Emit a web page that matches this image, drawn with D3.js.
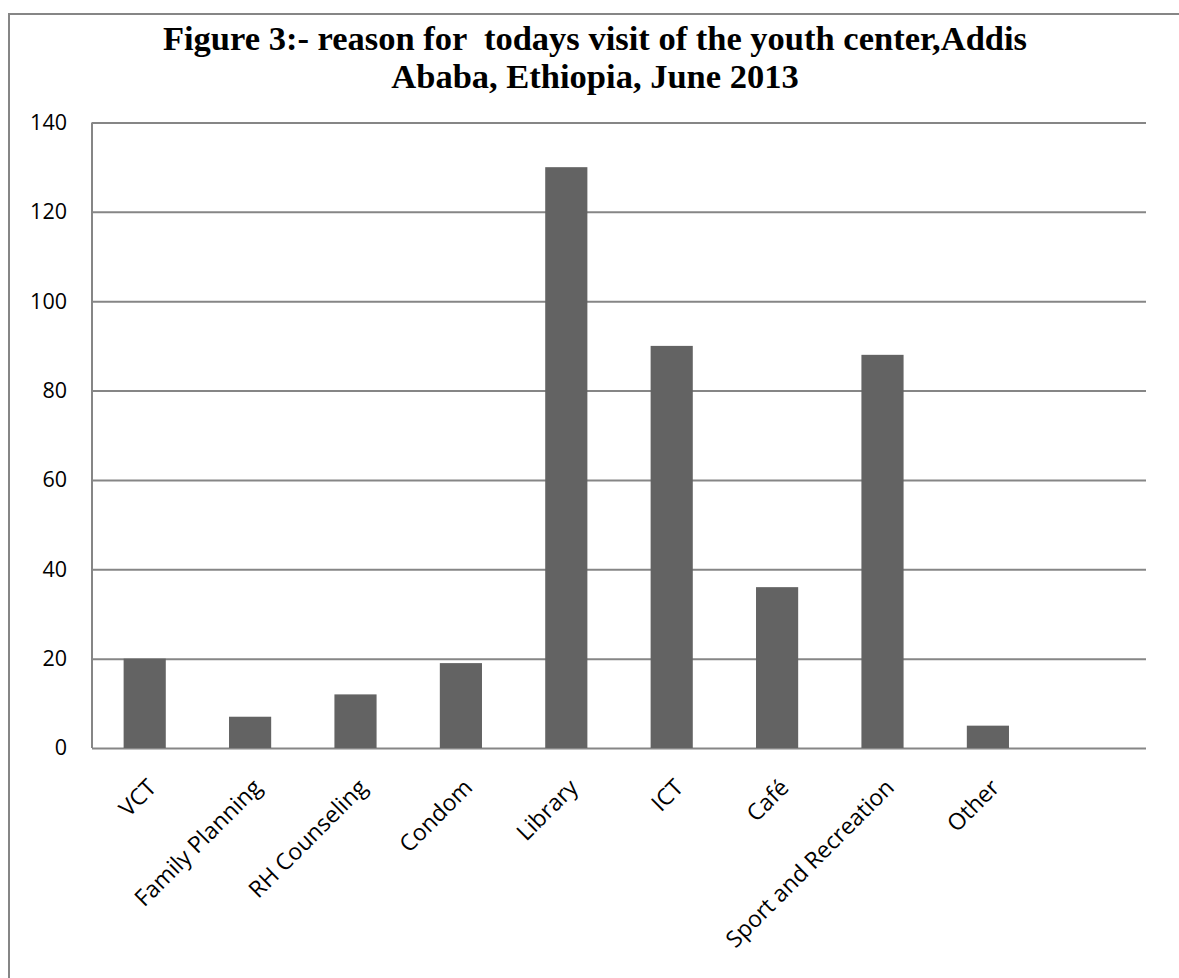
<!DOCTYPE html>
<html>
<head>
<meta charset="utf-8">
<script src="https://cdn.jsdelivr.net/npm/d3@7"></script>
<style>
body { margin: 0; background: #fff; }
.tick text, .xlab { font-family: "Open Sans", "Noto Sans", sans-serif; fill: #000; }
</style>
</head>
<body>
<div class="mainviz"></div>
<script>
var categories = ["VCT", "Family Planning", "RH Counseling", "Condom", "Library", "ICT", "Café", "Sport and Recreation", "Other", ""];
var visits = [20, 7, 12, 19, 130, 90, 36, 88, 5, null];
var yTicks = [0, 20, 40, 60, 80, 100, 120, 140];
var titleLines = ["Figure 3:- reason for  todays visit of the youth center,Addis", "Ababa, Ethiopia, June 2013"];

var W = 1179, H = 978;
var margin = { top: 122.5, right: 33, bottom: 230, left: 92 };
var width = W - margin.left - margin.right,
	height = H - margin.top - margin.bottom;

var svg = d3.select(".mainviz").append("svg")
	.attr("width", W)
	.attr("height", H);

// outer chart border
svg.append("rect")
	.attr("x", 9).attr("y", 14)
	.attr("width", W + 20).attr("height", H + 20)
	.attr("fill", "none")
	.attr("stroke", "#868686")
	.attr("stroke-width", 2);

svg.append("g").selectAll("text")
	.data(titleLines)
	.enter().append("text")
	.attr("x", 595)
	.attr("y", function(d, i) { return 50 + i * 38; })
	.attr("text-anchor", "middle")
	.style("white-space", "pre")
	.style("font-family", "'Liberation Serif', 'Times New Roman', serif")
	.style("font-weight", "bold")
	.style("font-size", "34.5px")
	.text(function(d) { return d; });

var chartGroup = svg.append("g")
	.attr("transform", "translate(" + margin.left + "," + margin.top + ")");

var x = d3.scaleBand()
	.domain(categories)
	.range([0, width])
	.paddingInner(0.6)
	.paddingOuter(0.3);

var y = d3.scaleLinear()
	.domain([0, 140])
	.range([height, 0]);

var yAxis = d3.axisLeft(y)
	.tickValues(yTicks)
	.tickSize(-width)
	.tickPadding(25);

chartGroup.append("g")
	.attr("class", "axis y")
	.call(yAxis)
	.call(function(g) { g.select(".domain").remove(); })
	.call(function(g) {
		g.selectAll(".tick line").attr("stroke", "#868686").attr("stroke-width", 2);
		g.selectAll(".tick text").style("font-size", "21.5px");
	});

// left axis line
chartGroup.append("line")
	.attr("x1", 0).attr("x2", 0)
	.attr("y1", y(140)).attr("y2", y(0))
	.attr("stroke", "#868686")
	.attr("stroke-width", 2);

var data = categories.map(function(c, i) { return { cat: c, value: visits[i] }; })
	.filter(function(d) { return d.value != null; });

chartGroup.selectAll("rect.bar")
	.data(data)
	.enter().append("rect")
	.attr("class", "bar")
	.attr("x", function(d) { return x(d.cat); })
	.attr("y", function(d) { return y(d.value); })
	.attr("width", x.bandwidth())
	.attr("height", function(d) { return y(0) - y(d.value); })
	.attr("fill", "#636363");

chartGroup.selectAll("text.xlab")
	.data(categories.filter(function(c) { return c !== ""; }))
	.enter().append("text")
	.attr("class", "xlab")
	.attr("text-anchor", "end")
	.style("font-size", "23px")
	.attr("transform", function(d) {
		var cx = x(d) + x.bandwidth() / 2 + 13;
		return "translate(" + cx + "," + (height + 41) + ") rotate(-45)";
	})
	.text(function(d) { return d; });
</script>
</body>
</html>
